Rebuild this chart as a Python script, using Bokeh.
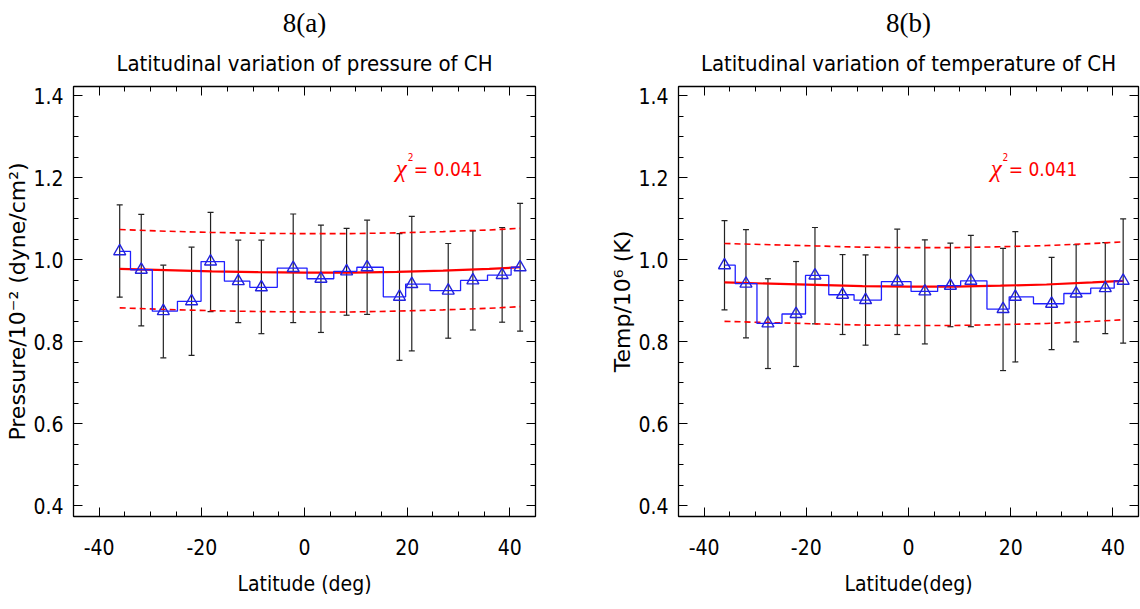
from bokeh.plotting import figure
from bokeh.models import (Range1d, LinearAxis, SingleIntervalTicker, PrintfTickFormatter,
                          CustomJSTickFormatter, Whisker, TeeHead, ColumnDataSource, Label, Title)
from bokeh.layouts import row
from bokeh.embed import file_html
from bokeh.resources import INLINE

# ---------------- data ----------------
latitude = [-36.0, -31.8, -27.5, -22.0, -18.3, -12.9, -8.4, -2.2, 3.2, 8.2,
            12.2, 18.5, 20.9, 28.0, 32.8, 38.5, 42.0]

pressure = [1.021, 0.976, 0.875, 0.899, 0.996, 0.948, 0.933, 0.980, 0.954, 0.972,
            0.982, 0.910, 0.941, 0.925, 0.950, 0.963, 0.982]
pressure_upper = [1.134, 1.111, 0.987, 1.031, 1.116, 1.048, 1.048, 1.112, 1.085, 1.077,
                  1.097, 1.064, 1.106, 1.040, 1.071, 1.079, 1.138]
pressure_lower = [0.909, 0.839, 0.761, 0.767, 0.874, 0.847, 0.820, 0.847, 0.823, 0.865,
                  0.867, 0.755, 0.778, 0.809, 0.829, 0.848, 0.826]

temperature = [0.987, 0.942, 0.845, 0.868, 0.962, 0.915, 0.902, 0.947, 0.923, 0.937,
               0.949, 0.880, 0.910, 0.893, 0.918, 0.931, 0.949]
temperature_upper = [1.096, 1.074, 0.954, 0.996, 1.079, 1.013, 1.012, 1.075, 1.049, 1.041,
                     1.060, 1.028, 1.069, 1.006, 1.037, 1.042, 1.100]
temperature_lower = [0.878, 0.810, 0.735, 0.740, 0.844, 0.818, 0.792, 0.818, 0.795, 0.837,
                     0.837, 0.730, 0.751, 0.781, 0.800, 0.820, 0.797]

fit_latitude = [-36, -27, -18, -9, 0, 9, 18, 27, 36, 42]
pressure_fit = [0.978, 0.975, 0.972, 0.970, 0.969, 0.969, 0.971, 0.974, 0.978, 0.982]
pressure_fit_hi = [1.074, 1.070, 1.067, 1.065, 1.064, 1.064, 1.066, 1.069, 1.073, 1.077]
pressure_fit_lo = [0.883, 0.879, 0.876, 0.874, 0.873, 0.873, 0.875, 0.878, 0.882, 0.886]
temperature_fit = [0.945, 0.942, 0.939, 0.936, 0.935, 0.935, 0.937, 0.940, 0.945, 0.949]
temperature_fit_hi = [1.040, 1.037, 1.034, 1.031, 1.030, 1.030, 1.032, 1.035, 1.040, 1.044]
temperature_fit_lo = [0.850, 0.847, 0.844, 0.841, 0.840, 0.840, 0.842, 0.845, 0.850, 0.854]

x_ticks_interval = 20
y_ticks_interval = 0.2
chi_value = "= 0.041"

NARROW = "DejaVu Sans Condensed, Liberation Sans"
SERIF = "Liberation Serif"
WIDE = "DejaVu Sans"


def style_axis(ax, show_labels, interval, fmt):
    ax.ticker = SingleIntervalTicker(interval=interval, num_minor_ticks=4)
    ax.axis_line_color = "black"
    ax.axis_line_width = 1.3
    ax.major_tick_in = 9
    ax.major_tick_out = 0
    ax.minor_tick_in = 5
    ax.minor_tick_out = 0
    ax.major_tick_line_color = "black"
    ax.minor_tick_line_color = "black"
    if show_labels:
        ax.formatter = PrintfTickFormatter(format=fmt)
        ax.major_label_text_font = NARROW
        ax.major_label_text_font_size = "21px"
        ax.major_label_text_color = "black"
    else:
        ax.formatter = CustomJSTickFormatter(code="return ''")
        ax.major_label_standoff = 0
        ax.major_label_text_font_size = "1px"


def make_panel(vals, upper, lower, fit, fit_hi, fit_lo, tag, title, ylabel, xlabel,
               left_border, right_border, chi_x):
    p = figure(width=570, height=609, x_range=Range1d(-45, 45), y_range=Range1d(0.374, 1.423),
               output_backend="svg", toolbar_location=None,
               min_border_left=left_border, min_border_right=right_border,
               min_border_top=86, min_border_bottom=93)
    p.title = None
    p.xgrid.visible = False
    p.ygrid.visible = False
    p.outline_line_color = "black"
    p.background_fill_color = "white"
    p.border_fill_color = "white"

    style_axis(p.xaxis[0], True, x_ticks_interval, "%d")
    style_axis(p.yaxis[0], True, y_ticks_interval, "%.1f")
    p.xaxis[0].major_label_standoff = 22
    p.yaxis[0].major_label_standoff = 10
    p.xaxis[0].axis_label = xlabel
    p.xaxis[0].axis_label_text_font = NARROW
    p.xaxis[0].axis_label_text_font_size = "21px"
    p.xaxis[0].axis_label_text_font_style = "normal"
    p.xaxis[0].axis_label_text_color = "black"
    p.xaxis[0].axis_label_standoff = 14
    p.yaxis[0].axis_label = ylabel
    p.yaxis[0].axis_label_text_font = WIDE
    p.yaxis[0].axis_label_text_font_size = "22px"
    p.yaxis[0].axis_label_text_font_style = "normal"
    p.yaxis[0].axis_label_text_color = "black"
    p.yaxis[0].axis_label_standoff = 0

    top = LinearAxis()
    style_axis(top, False, x_ticks_interval, "%d")
    p.add_layout(top, "above")
    right = LinearAxis()
    style_axis(right, False, y_ticks_interval, "%.1f")
    p.add_layout(right, "right")

    p.add_layout(Title(text=title, align="center", text_font=NARROW, text_font_size="22px",
                       text_font_style="normal", text_color="black", standoff=22), "above")
    p.add_layout(Title(text=tag, align="center", text_font=SERIF, text_font_size="27px",
                       text_font_style="normal", text_color="black", standoff=0), "above")

    # fit and confidence band
    p.line(fit_latitude, fit_hi, line_color="red", line_width=1.6, line_dash="6 4")
    p.line(fit_latitude, fit_lo, line_color="red", line_width=1.6, line_dash="6 4")
    p.line(fit_latitude, fit, line_color="red", line_width=2.2)

    # error bars
    src = ColumnDataSource(dict(x=latitude, y=vals, up=upper, lo=lower))
    p.add_layout(Whisker(source=src, base="x", upper="up", lower="lo",
                         line_color="#222222", line_width=1.2,
                         upper_head=TeeHead(size=6, line_color="#222222", line_width=1.2),
                         lower_head=TeeHead(size=6, line_color="#222222", line_width=1.2)))

    # histogram-style step line and triangles
    p.step("x", "y", source=src, mode="center", line_color="#2020ff", line_width=1.3)
    p.scatter("x", "y", source=src, marker="triangle", size=12, fill_color=None,
              line_color="#2222dd", line_width=1.4)

    # chi-square annotation
    p.add_layout(Label(x=chi_x, y=1.222, text="χ", text_font=SERIF, text_font_style="italic",
                       text_font_size="25px", text_color="red", text_baseline="alphabetic"))
    p.add_layout(Label(x=chi_x + 2.3, y=1.25, text="2", text_font=NARROW,
                       text_font_size="10px", text_color="red", text_baseline="alphabetic"))
    p.add_layout(Label(x=chi_x + 3.5, y=1.222, text=chi_value, text_font=NARROW,
                       text_font_size="19px", text_color="red", text_baseline="alphabetic"))
    return p


p1 = make_panel(pressure, pressure_upper, pressure_lower, pressure_fit, pressure_fit_hi,
                pressure_fit_lo, "8(a)", "Latitudinal variation of pressure of CH",
                "Pressure/10\u207b\u00b2 (dyne/cm\u00b2)", "Latitude (deg)", 73, 35, 17.8)
p2 = make_panel(temperature, temperature_upper, temperature_lower, temperature_fit,
                temperature_fit_hi, temperature_fit_lo, "8(b)",
                "Latitudinal variation of temperature of CH",
                "Temp/10\u2076 (K)", "Latitude(deg)", 108, 2, 16.1)

layout = row(p1, p2)
open("out.html", "w").write(file_html(layout, INLINE))
